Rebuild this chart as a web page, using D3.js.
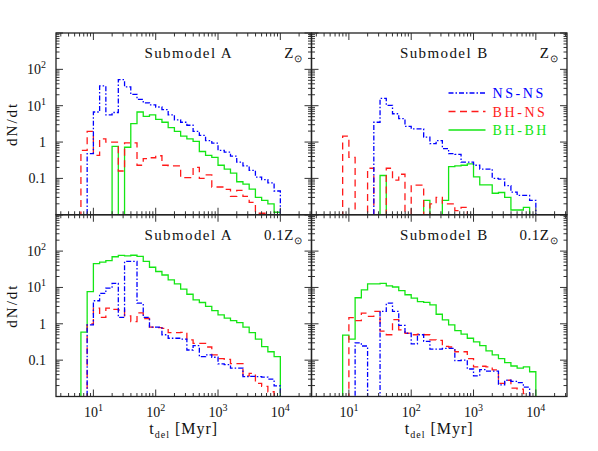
<!DOCTYPE html>
<html lang="en">
  <head>
    <meta charset="utf-8">
    <script src="https://cdn.jsdelivr.net/npm/d3@7"></script>
    <style>
      body { margin: 0; background: #fff; }
      text { font-family: 'Liberation Serif', 'Times New Roman', serif; fill: #111; }
    </style>
  </head>
  <body>
    <svg class='chart'></svg>
  </body>
  <script type="text/javascript">
    // lower edges of the delay-time bins, log10(t / Myr), bin width 0.1 dex
    var binLogLo = [0.8, 0.9, 1.0, 1.1, 1.2, 1.3, 1.4, 1.5, 1.6, 1.7, 1.8, 1.9,
                    2.0, 2.1, 2.2, 2.3, 2.4, 2.5, 2.6, 2.7, 2.8, 2.9,
                    3.0, 3.1, 3.2, 3.3, 3.4, 3.5, 3.6, 3.7, 3.8, 3.9];
    var binWidth = 0.1;

    // Submodel A, Z_sun
    var aSunNSNS = [0, 0.48, 6.7, 35, 5.6, 6.5, 52, 33, 20.5, 15, 12, 10.6, 9.2, 7.8, 5.6, 4.1, 3.5, 2.9,
                    1.96, 1.52, 1.1, 0.93, 0.59, 0.53, 0.41, 0.28, 0.22, 0.166, 0.108, 0.093, 0.075, 0.045];
    var aSunBHNS = [0.59, 1.96, 0.43, 1.23, 1.0, 1.0, 0.16, 0.95, 0.95, 0.23, 0.35, 0.37, 0.42, 0.23, 0.22, 0.22,
                    0.105, 0.105, 0.2, 0.1, 0.125, 0.058, 0.058, 0.05, 0.032, 0.047, 0.032, 0.022, 0.011, 0.011, 0, 0];
    var aSunBHBH = [0, 0, 0, 0, 0, 0.76, 0, 0.72, 3.2, 6.7, 5.1, 5.6, 4.2, 3.5, 2.5, 1.96, 1.45, 1.23,
                    1.04, 0.55, 0.43, 0.38, 0.23, 0.18, 0.14, 0.081, 0.07, 0.051, 0.030, 0.025, 0.02, 0.0117];

    // Submodel B, Z_sun
    var bSunNSNS = [0, 0, 0, 0, 0, 0, 3.5, 16, 10.2, 6.0, 4.4, 2.7, 2.3, 2.3, 1.36, 0.9, 1.1, 0.66,
                    0.48, 0.46, 0.28, 0.28, 0.23, 0.18, 0.18, 0.1, 0.095, 0.063, 0.042, 0.034, 0.034, 0.025];
    var bSunBHNS = [0, 1.45, 0.38, 0, 0, 0.19, 0, 0, 0.19, 0.09, 0.13, 0, 0.065, 0.065, 0, 0.02, 0.03, 0.02,
                    0.02, 0.013, 0.016, 0, 0, 0, 0, 0, 0, 0, 0, 0, 0, 0];
    var bSunBHBH = [0, 0, 0, 0, 0, 0, 0, 0.12, 0, 0, 0, 0, 0, 0, 0.025, 0, 0, 0.025,
                    0.21, 0.22, 0.23, 0.25, 0.11, 0.066, 0.066, 0.039, 0.041, 0.03, 0.0135, 0.0135, 0.016, 0];

    // Submodel A, 0.1 Z_sun
    var aLowNSNS = [0, 0.93, 4.3, 6.9, 9.6, 13, 1.5, 52, 52, 3.7, 1.5, 0.81, 0.81, 0.5, 0.4, 0.4, 0.38, 0.19,
                    0.25, 0.125, 0.14, 0.12, 0.079, 0.075, 0.06, 0.06, 0.035, 0.036, 0.035, 0.034, 0.030, 0.0195];
    var aLowBHNS = [0, 1.0, 2.7, 1.5, 2.7, 2.5, 2.4, 1.65, 1.15, 2.0, 1.4, 0.81, 0.78, 0.75, 0.57, 0.57, 0.58, 0.36,
                    0.29, 0.29, 0.23, 0.14, 0.11, 0.105, 0.08, 0.08, 0.037, 0.043, 0.023, 0.019, 0.0135, 0];
    var aLowBHBH = [0.59, 7.7, 45, 50, 55, 70, 76, 74, 77, 72, 52, 36, 27.5, 22, 16.2, 12.6, 9.0, 6.5,
                    4.55, 3.85, 3.0, 2.3, 1.77, 1.43, 1.23, 1.08, 0.81, 0.57, 0.38, 0.235, 0.17, 0.125];

    // Submodel B, 0.1 Z_sun
    var bLowNSNS = [0, 0, 0, 0.30, 0.245, 0, 0, 2.2, 3.7, 2.2, 0.9, 0.55, 0.28, 0.5, 0.33, 0.2, 0.2, 0.21,
                    0.21, 0.097, 0.1, 0.057, 0.037, 0.055, 0.05, 0.05, 0.021, 0.028, 0.026, 0.024, 0.018, 0];
    var bLowBHNS = [0, 0, 1.48, 1.23, 1.96, 1.6, 2.2, 0.63, 0.5, 1.3, 0.68, 0.55, 0.5, 0.52, 0.5, 0.36, 0.35, 0.24,
                    0.23, 0.17, 0.17, 0.11, 0.065, 0.068, 0.065, 0.054, 0.023, 0.028, 0.017, 0.016, 0.012, 0];
    var bLowBHBH = [0, 0.49, 0.38, 5.2, 8.6, 12.6, 12.6, 13, 11, 10.3, 8.2, 6.3, 5.1, 4.1, 3.9, 3.3, 1.83, 1.28,
                    0.93, 0.65, 0.52, 0.40, 0.32, 0.25, 0.18, 0.14, 0.11, 0.085, 0.069, 0.06, 0.065, 0.048];

    var seriesNames = ['NS-NS', 'BH-NS', 'BH-BH'];
    var panelTitles = ['Submodel A', 'Submodel B', 'Submodel A', 'Submodel B'];
    var panelZ = ['', '', '0.1', '0.1'];

    var xTicks = [10, 100, 1000, 10000];
    var xTickExp = ['1', '2', '3', '4'];
    var yTicks = [0.1, 1, 10, 100];
    var yTickBase = ['0.1', '1', '10', '10'];
    var yTickExp = ['', '', '1', '2'];

    var panels = [
      {col: 0, row: 0, data: [aSunNSNS, aSunBHNS, aSunBHBH]},
      {col: 1, row: 0, data: [bSunNSNS, bSunBHNS, bSunBHBH]},
      {col: 0, row: 1, data: [aLowNSNS, aLowBHNS, aLowBHBH]},
      {col: 1, row: 1, data: [bLowNSNS, bLowBHNS, bLowBHBH]}
    ];

    var screenWidth = 598, screenHeight = 451;
    var margins = {top: 33, bottom: 54.5, left: 56, right: 31};
    var pw = (screenWidth - margins.left - margins.right) / 2;
    var ph = (screenHeight - margins.top - margins.bottom) / 2;

    var colors = ['#0000ff', '#ff1a1a', '#14e614'];
    var dashes = ['5,2,1.5,2', '7,4.5', null];
    var drawOrder = [2, 1, 0];

    var svg = d3.select('.chart')
                .attr('width', screenWidth)
                .attr('height', screenHeight);

    var minorX = [], minorY = [];
    [0, 1, 2, 3, 4].forEach(function(e){
      for (var k = 2; k <= 9; k++) minorX.push(k * Math.pow(10, e));
    });
    [-2, -1, 0, 1, 2].forEach(function(e){
      for (var k = 2; k <= 9; k++) minorY.push(k * Math.pow(10, e));
    });

    panels.forEach(function(p, pi){
      var x0 = margins.left + p.col * pw;
      var y0 = margins.top + p.row * ph;

      var xScale = d3.scaleLog().domain([Math.pow(10, 0.4), Math.pow(10, 4.5)]).range([x0, x0 + pw]);
      var yScale = d3.scaleLog().domain([0.01, 1000]).range([y0 + ph, y0]).clamp(false);
      var xDom = xScale.domain(), yDom = yScale.domain();

      svg.append('clipPath').attr('id', 'clip' + pi)
         .append('rect').attr('x', x0).attr('y', y0).attr('width', pw).attr('height', ph);

      var plot = svg.append('g').attr('clip-path', 'url(#clip' + pi + ')');

      var line = d3.line()
                   .x(function(d){ return xScale(d[0]); })
                   .y(function(d){ return yScale(d[1] > 0 ? d[1] : 1e-4); });

      drawOrder.forEach(function(s){
        var vals = p.data[s];
        var first = -1, last = -1;
        vals.forEach(function(v, i){ if (v > 0) { if (first < 0) first = i; last = i; } });
        if (first < 0) return;
        var pts = [[Math.pow(10, binLogLo[first]), 0]];
        for (var i = first; i <= last; i++) {
          pts.push([Math.pow(10, binLogLo[i]), vals[i]]);
          pts.push([Math.pow(10, binLogLo[i] + binWidth), vals[i]]);
        }
        pts.push([Math.pow(10, binLogLo[last] + binWidth), 0]);
        plot.append('path')
            .attr('d', line(pts))
            .attr('fill', 'none')
            .attr('stroke', colors[s])
            .attr('stroke-width', 1.3)
            .attr('stroke-dasharray', dashes[s]);
      });

      // ticks on all four sides, pointing inward
      var ticks = svg.append('g').attr('stroke', '#333').attr('stroke-width', 1);
      var xMaj = xTicks.filter(function(t){ return t > xDom[0] && t < xDom[1]; });
      var xMin = minorX.filter(function(t){ return t > xDom[0] && t < xDom[1]; });
      var yMaj = [0.01, 0.1, 1, 10, 100, 1000];
      var yMin = minorY.filter(function(t){ return t > yDom[0] && t < yDom[1]; });

      [[xMaj, 7], [xMin, 3.5]].forEach(function(set){
        set[0].forEach(function(t){
          var xx = xScale(t);
          ticks.append('line').attr('x1', xx).attr('x2', xx).attr('y1', y0 + ph).attr('y2', y0 + ph - set[1]);
          ticks.append('line').attr('x1', xx).attr('x2', xx).attr('y1', y0).attr('y2', y0 + set[1]);
        });
      });
      [[yMaj, 7], [yMin, 3.5]].forEach(function(set){
        set[0].forEach(function(t){
          var yy = yScale(t);
          ticks.append('line').attr('x1', x0).attr('x2', x0 + set[1]).attr('y1', yy).attr('y2', yy);
          ticks.append('line').attr('x1', x0 + pw).attr('x2', x0 + pw - set[1]).attr('y1', yy).attr('y2', yy);
        });
      });

      svg.append('rect')
         .attr('x', x0).attr('y', y0).attr('width', pw).attr('height', ph)
         .attr('fill', 'none').attr('stroke', '#222').attr('stroke-width', 1.3);

      // panel title and metallicity
      svg.append('text')
         .attr('x', x0 + pw / 2 + 5).attr('y', y0 + 25)
         .attr('text-anchor', 'middle')
         .style('font-size', '15px').style('letter-spacing', '1.4px')
         .text(panelTitles[pi]);

      var zt = svg.append('text')
                  .attr('x', x0 + pw - 9).attr('y', y0 + 25)
                  .attr('text-anchor', 'end')
                  .style('font-size', '15px').style('letter-spacing', '0.5px');
      zt.append('tspan').text(panelZ[pi] + 'Z');
      zt.append('tspan').attr('dy', 4).style('font-size', '10px').text('\u2299');

      if (p.row === 1) {
        xTicks.forEach(function(t, i){
          var lab = svg.append('text')
                       .attr('x', xScale(t)).attr('y', y0 + ph + 20.5)
                       .attr('text-anchor', 'middle')
                       .style('font-size', '14px');
          lab.append('tspan').text('10');
          lab.append('tspan').attr('dy', -6).style('font-size', '10px').text(xTickExp[i]);
        });
        var xl = svg.append('text')
                    .attr('x', x0 + pw / 2).attr('y', y0 + ph + 37)
                    .attr('text-anchor', 'middle')
                    .style('font-size', '16px').style('letter-spacing', '1px');
        xl.append('tspan').text('t');
        xl.append('tspan').attr('dy', 4).style('font-size', '10px').text('del');
        xl.append('tspan').attr('dy', -4).text(' [Myr]');
      }

      if (p.col === 0) {
        yTicks.forEach(function(t, i){
          var lab = svg.append('text')
                       .attr('x', x0 - 10).attr('y', yScale(t) + 5)
                       .attr('text-anchor', 'end')
                       .style('font-size', '14px');
          lab.append('tspan').text(yTickBase[i]);
          if (yTickExp[i]) lab.append('tspan').attr('dy', -6).style('font-size', '10px').text(yTickExp[i]);
        });
        svg.append('text')
           .attr('transform', 'translate(17,' + (y0 + ph / 2) + ') rotate(-90)')
           .attr('text-anchor', 'middle')
           .style('font-size', '15px').style('letter-spacing', '2px')
           .text('dN/dt');
      }

      // legend only in the upper right panel
      if (pi === 1) {
        var legend = svg.append('g').attr('transform', 'translate(' + (x0 + 137) + ',' + (y0 + 60) + ')');
        seriesNames.forEach(function(name, s){
          var g = legend.append('g').attr('transform', 'translate(0,' + (s * 18.5) + ')');
          g.append('line').attr('x1', 0).attr('x2', 37).attr('y1', 0).attr('y2', 0)
           .attr('stroke', colors[s]).attr('stroke-width', 1.3)
           .attr('stroke-dasharray', dashes[s]);
          g.append('text').attr('x', 44).attr('y', 5)
           .style('font-size', '14px').style('letter-spacing', '2.6px')
           .style('fill', colors[s])
           .text(name);
        });
      }
    });
  </script>
</html>
